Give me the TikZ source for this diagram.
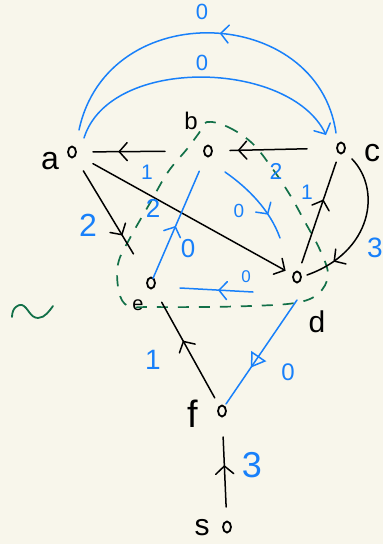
\documentclass[tikz,border=0pt]{standalone}
\usepackage{fontspec}
\setmainfont{Liberation Sans}
\usetikzlibrary{arrows.meta,decorations.markings,shapes.geometric,calc}
\definecolor{bg}{RGB}{248,246,235}
\definecolor{pblue}{RGB}{24,128,250}
\definecolor{pgreen}{RGB}{18,112,72}
\newcommand{\fs}[1]{\fontsize{#1}{#1}\selectfont}
\tikzset{
  vtx/.style={draw=black,ellipse,line width=1.8pt,minimum width=8pt,minimum height=11pt,inner sep=0pt},
  blk/.style={draw=black,line width=1.5pt,line cap=round},
  blu/.style={draw=pblue,line width=1.5pt,line cap=round},
  grn/.style={draw=pgreen,line width=1.7pt,dash pattern=on 11pt off 10pt},
  lbl/.style={inner sep=0pt,text=black},
  wt/.style={inner sep=0pt,text=pblue},
  midarr/.style 2 args={postaction={decorate},decoration={markings,
      mark=at position #1 with {\arrow[#2]{Straight Barb[length=8pt,width=18pt,line cap=round]}}}},
  midtri/.style={postaction={decorate},decoration={markings,
      mark=at position #1 with {\arrow[pblue]{Triangle[open,length=14pt,width=18pt]}}}},
}
\begin{document}
\begin{tikzpicture}[x=1pt,y=-1pt]
\fill[bg] (0,0) rectangle (383,544);
\useasboundingbox (0,0) rectangle (383,544);

% vertices
\node[vtx] (a) at (72,152) {};
\node[vtx] (b) at (208,151) {};
\node[vtx] (c) at (341,148) {};
\node[vtx] (d) at (297,277) {};
\node[vtx] (e) at (151,283) {};
\node[vtx] (f) at (222,411) {};
\node[vtx] (s) at (227,527) {};

% vertex labels
\node[lbl,font=\fs{32}] (la) at (50,161) {a};
\node[lbl,font=\fs{24}] (lb) at (191,121) {b};
\node[lbl,font=\fs{32}] (lc) at (372,153) {c};
\node[lbl,font=\fs{30}] (ld) at (317,322) {d};
\node[lbl,font=\fs{20}] (le) at (138,305) {e};
\node[lbl,font=\fs{38}] (lf) at (193,414) {f};
\node[lbl,font=\fs{30}] (ls) at (202,528) {s};

% green dashed loop
\draw[grn] plot[smooth cycle,tension=0.6] coordinates {
  (207,122) (228,127) (252,143) (272,168) (290,195) (305,222) (320,250)
  (328,275) (318,294) (295,303) (250,306) (200,307) (150,307) (128,306)
  (119,292) (118,264) (130,238) (150,203) (168,172) (187,149) (199,133)};
% green squiggle
\draw[pgreen,line width=1.8pt,line cap=round] (12,317) .. controls (12,308) and (18,304) .. (22,305)
  .. controls (28,307) and (30,318) .. (38,318) .. controls (45,318) and (50,310) .. (53,306);

% black edges
\draw[blk,midarr={0.65}{black}] ($(b)!43pt!(a)$) -- ($(a)!21pt!(b)$);
\draw[blk,midarr={0.9}{black}] ($(c)!34pt!(b)$) -- ($(b)!22pt!(c)$);
\draw[blk,-{Straight Barb[length=8pt,width=18pt,line cap=round]}] ($(a)!24pt!(d)$) -- ($(d)!13pt!(a)$);
\draw[blk,midarr={0.78}{black}] ($(a)!22pt!(e)$) -- ($(e)!34pt!(a)$);
\draw[blk,midarr={0.63}{black}] ($(d)!15pt!(c)$) -- ($(c)!15pt!(d)$);
\draw[blk,midarr={0.8}{black}] ($(c)+(11,11)$) .. controls (382,190) and (372,252) .. ($(d)+(10,-2)$);
\draw[blk,midarr={0.6}{black}] ($(f)!15pt!(e)$) -- ($(e)!22pt!(f)$);
\draw[blk,midarr={0.6}{black}] ($(s)!20pt!(f)$) -- ($(f)!26pt!(s)$);

% blue edges
\draw[blu,midarr={0.47}{pblue}] ($(c)+(-5,-15)$) .. controls (318,5) and (108,-5) .. ($(a)+(7,-22)$);
\draw[blu,-{Straight Barb[length=8pt,width=18pt,line cap=round]}] ($(a)+(12,-14)$) .. controls (110,55) and (290,60) .. ($(c)+(-15,-13)$);
\draw[blu,midarr={0.49}{pblue}] ($(e)!5pt!(b)$) -- ($(b)!22pt!(e)$);
\draw[blu,midarr={0.7}{pblue}] ($(b)+(17,21)$) .. controls (248,188) and (270,210) .. ($(d)+(-17,-39)$);
\draw[blu,midarr={0.48}{pblue}] ($(d)+(-44,15)$) -- ($(e)+(29,5)$);
\draw[blu,midtri={0.65}] ($(d)+(0,23)$) -- ($(f)+(4,-7)$);

% weights
\node[wt,font=\fs{22}] (w1) at (202,12) {0};
\node[wt,font=\fs{22}] (w2) at (202,63) {0};
\node[wt,font=\fs{21}] (w3) at (147,172) {1};
\node[wt,font=\fs{23}] (w4) at (276,171) {2};
\node[wt,font=\fs{21}] (w5) at (307,192) {1};
\node[wt,font=\fs{32}] (w6) at (88,225) {2};
\node[wt,font=\fs{26}] (w7) at (153,208) {2};
\node[wt,font=\fs{26}] (w8) at (188,249) {0};
\node[wt,font=\fs{19}] (w9) at (239,211) {0};
\node[wt,font=\fs{17}] (w10) at (246,277) {0};
\node[wt,font=\fs{28}] (w11) at (375,248) {3};
\node[wt,font=\fs{28}] (w12) at (153,360) {1};
\node[wt,font=\fs{24}] (w13) at (288,372) {0};
\node[wt,font=\fs{36}] (w14) at (252,465) {3};
\end{tikzpicture}
\end{document}
